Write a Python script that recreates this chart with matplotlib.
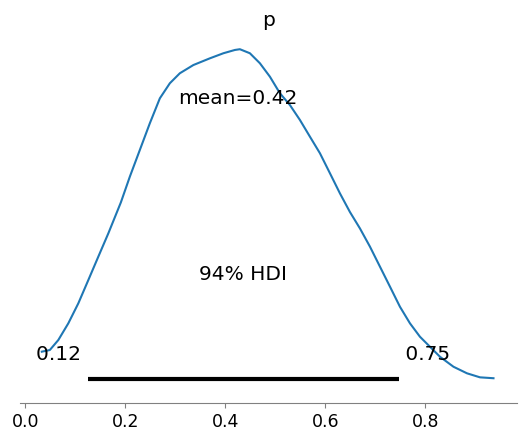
import matplotlib
matplotlib.use("Agg")
import matplotlib.pyplot as plt

# ── Data (posterior density of p) ─────────────────────────────────────────────
p_grid = [0.033, 0.049, 0.066, 0.086, 0.106, 0.126, 0.146, 0.166, 0.191,
          0.209, 0.229, 0.249, 0.269, 0.289, 0.309, 0.336, 0.369, 0.396,
          0.419, 0.429, 0.449, 0.469, 0.489, 0.509, 0.529, 0.549, 0.569,
          0.589, 0.609, 0.629, 0.649, 0.669, 0.689, 0.709, 0.729, 0.749,
          0.769, 0.789, 0.809, 0.829, 0.856, 0.883, 0.909, 0.936]
density = [0.344, 0.355, 0.422, 0.534, 0.668, 0.824, 0.981, 1.137, 1.344,
           1.517, 1.696, 1.875, 2.042, 2.143, 2.210, 2.265, 2.310, 2.344,
           2.366, 2.371, 2.344, 2.277, 2.187, 2.076, 1.997, 1.897, 1.785,
           1.674, 1.540, 1.405, 1.280, 1.170, 1.048, 0.914, 0.780, 0.645,
           0.534, 0.444, 0.377, 0.310, 0.243, 0.199, 0.172, 0.166]

hdi_low, hdi_high = 0.125, 0.747
mean_p = 0.4245
hdi_prob = 0.94
xticks = [0.0, 0.2, 0.4, 0.6, 0.8]

# ── Plot ──────────────────────────────────────────────────────────────────────
fig = plt.figure(figsize=(5.25, 4.41), dpi=100)
ax = fig.add_axes([20 / 525, 38 / 441, 497 / 525, 369 / 441])

ax.plot(p_grid, density, color="C0", linewidth=1.5)

y_line = 0.161
ax.plot([hdi_low, hdi_high], [y_line, y_line], color="k", linewidth=3,
        solid_capstyle="butt")

label_size = 14.5
ax.text(hdi_low, 0.285, f"{hdi_low:.2f} ", size=label_size, ha="right")
ax.text(hdi_high, 0.285, f" {hdi_high:.2f}", size=label_size, ha="left")
ax.text((hdi_low + hdi_high) / 2, 0.821, f"{hdi_prob:.0%} HDI",
        size=label_size, ha="center")
ax.text(mean_p, 2.005, f"mean={mean_p:.2f}", size=label_size, ha="center")

ax.set_title("p", fontsize=label_size)

ax.set_xlim(-0.0106, 0.983)
ax.set_ylim(0, 2.473)
ax.set_xticks(xticks)
ax.set_xticklabels([f"{t:.1f}" for t in xticks])
ax.tick_params(axis="x", labelsize=12.5, color="gray")
ax.set_yticks([])
for side in ("left", "right", "top"):
    ax.spines[side].set_visible(False)
ax.spines["bottom"].set_color("gray")

fig.savefig("out.png", dpi=100)
plt.close(fig)
